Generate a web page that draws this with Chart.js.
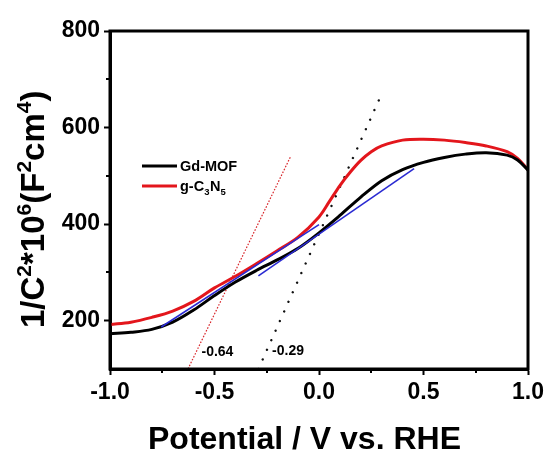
<!DOCTYPE html>
<html>
<head>
<meta charset="utf-8">
<script src="https://cdn.jsdelivr.net/npm/chart.js@4.4.1/dist/chart.umd.min.js"></script>
<style>
  html, body { margin: 0; padding: 0; background: #ffffff; }
  #wrap { width: 549px; height: 455px; }
</style>
</head>
<body>
<div id="wrap"><canvas id="c" width="549" height="455"></canvas></div>
<script>
// ---------------- data ----------------
const gdmofX = [-1.0, -0.9, -0.8, -0.7, -0.6, -0.5, -0.4, -0.3, -0.2, -0.1, 0.0, 0.1, 0.2, 0.3, 0.4, 0.5, 0.6, 0.7, 0.8, 0.9, 0.95, 1.0];
const gdmofY = [173, 176, 182, 197, 222, 252, 280, 304, 326, 350, 382, 418, 456, 490, 513, 528, 538, 545, 548, 543, 533, 512];

const gc3n5X = [-1.0, -0.9, -0.8, -0.7, -0.6, -0.5, -0.4, -0.3, -0.2, -0.1, 0.0, 0.05, 0.1, 0.15, 0.2, 0.25, 0.3, 0.4, 0.5, 0.6, 0.7, 0.8, 0.9, 0.95, 1.0];
const gc3n5Y = [192, 197, 207, 220, 240, 268, 292, 318, 345, 373, 415, 447, 480, 508, 532, 550, 562, 574, 576, 574, 569, 562, 550, 536, 513];

// tangent (fit) lines
const fitRedX = [-0.755, 0.0];
const fitRedY = [187, 399];
const fitBlackX = [-0.29, 0.455];
const fitBlackY = [293, 515];

// extrapolation (dotted) lines
const extRedX = [-0.627, -0.136];
const extRedY = [100, 540];
const extBlackX = [-0.29, 0.295];
const extBlackY = [100, 665];

// intercept labels
const interceptLabels = ['-0.64', '-0.29'];
const interceptX = [-0.486, -0.148];
const interceptY = [135, 137];

// axes
const xTicks = [-1.0, -0.5, 0.0, 0.5, 1.0];
const xMinorTicks = [-0.75, -0.25, 0.25, 0.75];
const yTicks = [200, 400, 600, 800];
const yMinorTicks = [300, 500, 700];
const xTitle = 'Potential / V vs. RHE';

const pts = (xs, ys) => xs.map((x, i) => ({ x: x, y: ys[i] }));

const FONT = "'Liberation Sans', Arial, Helvetica, sans-serif";

const overlay = {
  id: 'overlay',
  afterDraw(chart) {
    const ctx = chart.ctx;
    const a = chart.chartArea;
    const xs = chart.scales.x, ys = chart.scales.y;
    ctx.save();
    // frame
    ctx.strokeStyle = '#000';
    ctx.lineWidth = 3;
    ctx.strokeRect(a.left, a.top, a.right - a.left, a.bottom - a.top);
    // minor ticks
    ctx.lineWidth = 2;
    ctx.beginPath();
    xMinorTicks.forEach(v => {
      const px = Math.round(xs.getPixelForValue(v));
      ctx.moveTo(px, a.bottom);
      ctx.lineTo(px, a.bottom + 4);
    });
    yMinorTicks.forEach(v => {
      const py = Math.round(ys.getPixelForValue(v));
      ctx.moveTo(a.left, py);
      ctx.lineTo(a.left - 4, py);
    });
    ctx.stroke();

    // intercept labels
    ctx.fillStyle = '#000';
    ctx.font = 'bold 14px ' + FONT;
    ctx.textAlign = 'center';
    ctx.textBaseline = 'middle';
    interceptLabels.forEach((t, i) => {
      ctx.fillText(t, xs.getPixelForValue(interceptX[i]), ys.getPixelForValue(interceptY[i]));
    });

    // legend
    ctx.textAlign = 'left';
    ctx.textBaseline = 'alphabetic';
    ctx.lineWidth = 3;
    ctx.strokeStyle = '#000';
    ctx.beginPath(); ctx.moveTo(142, 166); ctx.lineTo(177, 166); ctx.stroke();
    ctx.strokeStyle = '#e3161c';
    ctx.beginPath(); ctx.moveTo(142, 186); ctx.lineTo(177, 186); ctx.stroke();
    ctx.font = 'bold 14.5px ' + FONT;
    ctx.fillText('Gd-MOF', 180, 171);
    let lx = 180;
    const seg = (t, sub) => {
      ctx.font = (sub ? 'bold 9.5px ' : 'bold 14.5px ') + FONT;
      ctx.fillText(t, lx, sub ? 195 : 191);
      lx += ctx.measureText(t).width + (sub ? 0.5 : 0);
    };
    seg('g-C', false); seg('3', true); seg('N', false); seg('5', true);

    // x title
    ctx.font = 'bold 32px ' + FONT;
    ctx.textAlign = 'left';
    ctx.fillText(xTitle, 148, 449);

    // y title (rotated, with superscripts)
    ctx.translate(44, 328);
    ctx.rotate(-Math.PI / 2);
    let tx = 0;
    const parts = [['1/C', 0], ['2', 1], ['*10', 0], ['6', 1], ['(F', 0], ['2', 1], ['cm', 0], ['4', 1], [')', 0]];
    parts.forEach(([t, sup]) => {
      ctx.font = (sup ? 'bold 21px ' : 'bold 33px ') + FONT;
      ctx.fillText(t, tx, sup ? -13 : 0);
      tx += ctx.measureText(t).width;
    });
    ctx.restore();
  }
};

const tickFont = { family: FONT, size: 23, weight: 'bold' };

new Chart(document.getElementById('c'), {
  type: 'scatter',
  data: {
    datasets: [
      { data: pts(extRedX, extRedY), showLine: true, borderColor: '#d8262b', borderWidth: 1.2, borderDash: [1.6, 1.6], pointRadius: 0, order: 5 },
      { data: pts(extBlackX, extBlackY), showLine: true, borderColor: '#111', borderWidth: 2.4, borderDash: [0.01, 10.5], borderCapStyle: 'round', pointRadius: 0, order: 5 },
      { data: pts(gc3n5X, gc3n5Y), showLine: true, borderColor: '#e3161c', borderWidth: 3, tension: 0.35, pointRadius: 0, order: 3 },
      { data: pts(gdmofX, gdmofY), showLine: true, borderColor: '#000000', borderWidth: 3, tension: 0.35, pointRadius: 0, order: 2 },
      { data: pts(fitRedX, fitRedY), showLine: true, borderColor: '#2a2ad2', borderWidth: 1.6, pointRadius: 0, order: 1 },
      { data: pts(fitBlackX, fitBlackY), showLine: true, borderColor: '#2a2ad2', borderWidth: 1.6, pointRadius: 0, order: 1 }
    ]
  },
  options: {
    responsive: false,
    animation: false,
    devicePixelRatio: 1,
    layout: { padding: { left: 0, right: 21, top: 31, bottom: 0 } },
    plugins: { legend: { display: false }, tooltip: { enabled: false } },
    scales: {
      x: {
        type: 'linear', min: -1, max: 1,
        afterBuildTicks: s => { s.ticks = xTicks.map(v => ({ value: v })); },
        afterFit: s => { s.height = 86; },
        ticks: { font: tickFont, color: '#000', padding: 4, maxRotation: 0, autoSkip: false,
                 callback: v => Number(v).toFixed(1) },
        grid: { drawOnChartArea: false, drawTicks: true, tickLength: 6, tickWidth: 2, tickColor: '#000' },
        border: { display: true, color: '#000', width: 3 }
      },
      y: {
        type: 'linear', min: 100, max: 800,
        afterBuildTicks: s => { s.ticks = yTicks.map(v => ({ value: v })); },
        afterFit: s => { s.width = 110; },
        ticks: { font: tickFont, color: '#000', padding: 4, autoSkip: false,
                 callback: v => String(v) },
        grid: { drawOnChartArea: false, drawTicks: true, tickLength: 6, tickWidth: 2, tickColor: '#000' },
        border: { display: true, color: '#000', width: 3 }
      }
    }
  },
  plugins: [overlay]
});
</script>
</body>
</html>
